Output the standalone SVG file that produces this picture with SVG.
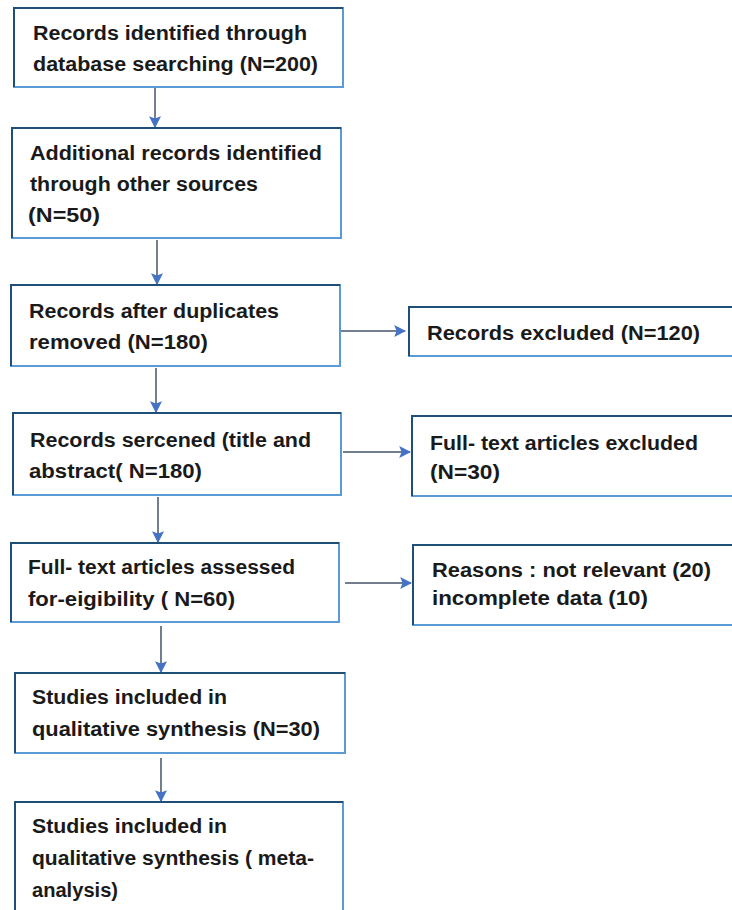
<svg xmlns="http://www.w3.org/2000/svg" width="732" height="910" viewBox="0 0 732 910">
<defs>
<style>
.box{fill:#ffffff;stroke:#5B9BD5;stroke-width:2}
.edge{fill:none;stroke:#1F4E79;stroke-width:2}
.t{font-family:"Liberation Sans",Arial,sans-serif;font-size:20px;font-weight:bold;fill:#1a1a1a}
.c{stroke:#44546A;stroke-width:1.5;fill:none}
</style>
<marker id="ah" viewBox="0 0 10 10" refX="9" refY="5" markerWidth="12" markerHeight="12" markerUnits="userSpaceOnUse" orient="auto">
<path d="M0,0 L10,5 L0,10 L2,5 z" fill="#4472C4"/>
</marker>
</defs>
<rect width="732" height="910" fill="#ffffff"/>
<g id="connectors">
<line class="c" x1="155" y1="88" x2="155" y2="127" marker-end="url(#ah)"/>
<line class="c" x1="157" y1="240" x2="157" y2="284" marker-end="url(#ah)"/>
<line class="c" x1="156" y1="368" x2="156" y2="412" marker-end="url(#ah)"/>
<line class="c" x1="158" y1="497" x2="158" y2="542" marker-end="url(#ah)"/>
<line class="c" x1="161" y1="626" x2="161" y2="672" marker-end="url(#ah)"/>
<line class="c" x1="161" y1="758" x2="161" y2="801" marker-end="url(#ah)"/>
<line class="c" x1="341" y1="331" x2="405" y2="331" marker-end="url(#ah)"/>
<line class="c" x1="343" y1="452" x2="410" y2="452" marker-end="url(#ah)"/>
<line class="c" x1="345" y1="583" x2="411" y2="583" marker-end="url(#ah)"/>
</g>
<g id="n1">
<rect class="box" x="14" y="8" width="329" height="79"/>
<path class="edge" d="M14,87 V8 H343"/>
<text class="t" x="33" y="40" textLength="274" lengthAdjust="spacingAndGlyphs">Records identified through</text>
<text class="t" x="33" y="71" textLength="285" lengthAdjust="spacingAndGlyphs">database searching (N=200)</text>
</g>
<g id="n2">
<rect class="box" x="12" y="128" width="329" height="110"/>
<path class="edge" d="M12,238 V128 H341"/>
<text class="t" x="30" y="160" textLength="292" lengthAdjust="spacingAndGlyphs">Additional records identified</text>
<text class="t" x="30" y="191" textLength="228" lengthAdjust="spacingAndGlyphs">through other sources</text>
<text class="t" x="28" y="222" textLength="72" lengthAdjust="spacingAndGlyphs">(N=50)</text>
</g>
<g id="n3">
<rect class="box" x="11" y="285" width="329" height="81"/>
<path class="edge" d="M11,366 V285 H340"/>
<text class="t" x="29" y="318" textLength="250" lengthAdjust="spacingAndGlyphs">Records after duplicates</text>
<text class="t" x="29" y="349" textLength="179" lengthAdjust="spacingAndGlyphs">removed (N=180)</text>
</g>
<g id="n4">
<rect class="box" x="13" y="413" width="328" height="82"/>
<path class="edge" d="M13,495 V413 H341"/>
<text class="t" x="30" y="447" textLength="281" lengthAdjust="spacingAndGlyphs">Records sercened (title and</text>
<text class="t" x="29" y="478" textLength="173" lengthAdjust="spacingAndGlyphs">abstract( N=180)</text>
</g>
<g id="n5">
<rect class="box" x="11" y="543" width="328" height="79"/>
<path class="edge" d="M11,622 V543 H339"/>
<text class="t" x="28" y="574" textLength="267" lengthAdjust="spacingAndGlyphs">Full- text articles assessed</text>
<text class="t" x="28" y="606" textLength="207" lengthAdjust="spacingAndGlyphs">for-eigibility ( N=60)</text>
</g>
<g id="n6">
<rect class="box" x="15" y="673" width="330" height="80"/>
<path class="edge" d="M15,753 V673 H345"/>
<text class="t" x="32" y="704" textLength="195" lengthAdjust="spacingAndGlyphs">Studies included in</text>
<text class="t" x="32" y="736" textLength="288" lengthAdjust="spacingAndGlyphs">qualitative synthesis (N=30)</text>
</g>
<g id="n7">
<rect class="box" x="15" y="802" width="328" height="120"/>
<path class="edge" d="M15,920 V802 H343"/>
<text class="t" x="32" y="833" textLength="195" lengthAdjust="spacingAndGlyphs">Studies included in</text>
<text class="t" x="32" y="865" textLength="282" lengthAdjust="spacingAndGlyphs">qualitative synthesis ( meta-</text>
<text class="t" x="32" y="897" textLength="86" lengthAdjust="spacingAndGlyphs">analysis)</text>
</g>
<g id="r1">
<rect class="box" x="409" y="307" width="340" height="49"/>
<path class="edge" d="M409,356 V307 H749"/>
<text class="t" x="427" y="340" textLength="273" lengthAdjust="spacingAndGlyphs">Records excluded (N=120)</text>
</g>
<g id="r2">
<rect class="box" x="412" y="416" width="340" height="80"/>
<path class="edge" d="M412,496 V416 H752"/>
<text class="t" x="430" y="450" textLength="268" lengthAdjust="spacingAndGlyphs">Full- text articles excluded</text>
<text class="t" x="430" y="479" textLength="70" lengthAdjust="spacingAndGlyphs">(N=30)</text>
</g>
<g id="r3">
<rect class="box" x="413" y="545" width="340" height="80"/>
<path class="edge" d="M413,625 V545 H753"/>
<text class="t" x="432" y="577" textLength="279" lengthAdjust="spacingAndGlyphs">Reasons : not relevant (20)</text>
<text class="t" x="432" y="605" textLength="216" lengthAdjust="spacingAndGlyphs">incomplete data (10)</text>
</g>
</svg>
